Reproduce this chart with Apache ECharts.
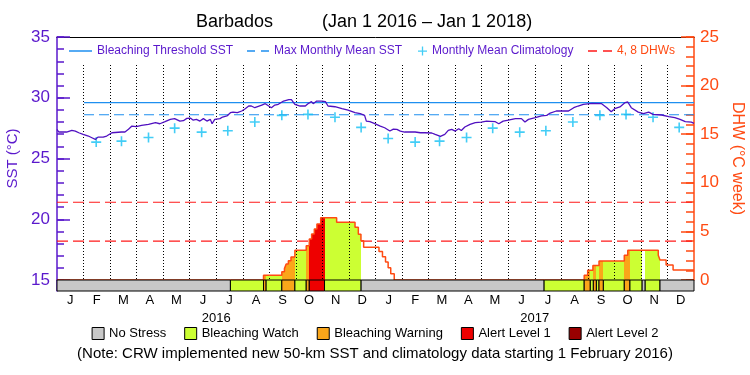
<!DOCTYPE html>
<html>
<head>
<meta charset="utf-8">
<script src="https://cdn.jsdelivr.net/npm/echarts@6/dist/echarts.min.js"></script>
<style>html,body{margin:0;padding:0;background:#fff}#chart{width:750px;height:375px}</style>
</head>
<body>
<div id="chart"></div>
<script>
// x values are days since 2016-01-01 (731 days up to 2018-01-01)
var monthLabels = ['J','F','M','A','M','J','J','A','S','O','N','D','J','F','M','A','M','J','J','A','S','O','N','D'];
var yearLabels = ['2016','2017'];

var sstDays = [0,2,11,13,17,21,25,30,36,40,44,47,49,53,57,63,74,78,82,86,91,97,105,113,118,124,130,135,141,145,149,153,156,160,164,168,172,176,178,181,183,187,190,195,199,202,207,212,216,220,223,227,231,235,239,243,246,250,254,260,266,269,273,279,285,288,292,294,298,304,308,311,319,327,334,342,348,353,355,359,364,365,371,376,382,386,390,394,399,411,417,422,430,434,440,445,449,453,457,461,464,468,474,480,487,493,497,499,503,507,512,518,526,533,537,541,549,556,562,566,573,587,593,598,604,614,625,631,636,640,646,652,655,659,667,673,679,684,694,702,709,715,721,728,731];
var sstValues = [27.4,27.18,27.18,27.26,27.31,27.26,27.12,26.98,26.85,26.71,26.57,26.76,26.85,26.76,26.85,27.12,27.18,27.18,27.4,27.67,27.62,27.73,27.81,27.95,27.86,28.03,28.22,28.28,28.08,28.11,28.3,28.33,28.16,28.22,28.08,28.28,28.08,28.22,27.86,28.22,28.36,28.28,28.41,28.5,28.77,28.82,28.77,28.91,29.1,29.32,29.32,29.18,29.29,29.4,29.51,29.32,29.18,29.4,29.46,29.73,29.84,29.84,29.46,29.32,29.32,29.51,29.68,29.51,29.73,29.73,29.68,29.32,29.26,29.1,28.99,28.77,28.69,28.55,28.08,28.03,27.89,27.73,27.67,27.53,27.26,27.42,27.4,27.26,27.18,27.18,27.12,27.12,27.1,26.98,26.82,26.98,27.31,27.4,27.26,27.45,27.31,27.59,27.81,27.95,28.0,28.08,28.06,27.95,28.03,27.86,28.08,28.16,28.28,28.28,28.0,28.22,28.36,28.5,28.55,28.74,28.91,28.91,29.18,29.32,29.46,29.54,29.51,29.18,28.85,29.1,29.24,29.6,29.65,29.18,28.82,28.69,28.82,28.63,28.58,28.44,28.36,28.22,28.03,28.0,27.89];

// monthly mean climatology, mid-month, Feb 2016 .. Dec 2017
var climDays = [45,74,105,135,166,196,227,258,288,319,349,380,411,439,470,500,531,561,592,623,653,684,714];
var climValues = [26.35,26.43,26.73,27.5,27.17,27.28,28.0,28.55,28.63,28.4,27.56,26.65,26.35,26.43,26.73,27.5,27.17,27.28,28.0,28.55,28.63,28.4,27.56];

var mmmSST = 28.6;
var thresholdSST = 29.6;
var thresholdStart = 31;   // new climatology from 1 Feb 2016
var dhwLevels = [4, 8];

// degree heating weeks (step values)
var dhwDays = [0,237,258,261,263,265.5,268.5,273,286,289.5,292.2,295.3,298.3,302.6,320.9,342,345.8,348.8,351.9,369.5,373.5,377,380,383,387,605,609,615,622,651,655,690,692,699,707,731];
var dhwValues = [0,0.48,0.86,1.17,1.64,1.99,2.37,3.05,3.53,4.22,4.73,5.25,5.76,6.41,5.93,5.42,4.7,4.05,3.36,2.92,2.4,1.85,1.25,0.65,0,0.5,1.0,1.5,1.95,2.55,3.05,2.55,2.05,1.55,1.03,1.03];

// [start day, end day, level] 0 no stress .. 4 alert level 2
var stressSegments = [[0,199,0],[199,237,1],[237,240,2],[240,258,1],[258,273,2],[273,286,1],[286,289.5,2],[289.5,307,3],[307,349,1],[349,559,0],[559,605,1],[605,612,2],[612,615.5,1],[615.5,619,2],[619,622,1],[622,627,2],[627,651,1],[651,657.5,2],[657.5,671.5,1],[671.5,675,0],[675,692,1],[692,731,0]];
var levelNames = ['No Stress','Bleaching Watch','Bleaching Warning','Alert Level 1','Alert Level 2'];
var levelColors = ['#c8c8c8','#ccff33','#faa61a','#ee0000','#990000'];

var purple = '#5a18cc';
var sstColor = '#5010c0';
var blue = '#1e8ff0';
var cyan = '#14c0f4';
var dhwColor = '#ff4a12';
var redDash = '#ff1a1a';
var font = 'Liberation Sans, Arial, sans-serif';
var plusPath = 'path://M0,4.2H10V5.8H0ZM4.2,0H5.8V10H4.2Z';

function pairs(xs, ys){
	var out = [];
	for (var i = 0; i < xs.length; i++) out.push([xs[i], ys[i]]);
	return out;
}

var pieces = [];
stressSegments.forEach(function(s){
	if (s[2] > 0) pieces.push({gte: s[0], lt: s[1], color: levelColors[s[2]]});
});

// an axis that only draws inside ticks (used for the small 1-unit ticks)
function tickAxis(min, max, pos, color, len){
	return {gridIndex: 0, type: 'value', min: min, max: max, interval: 1, position: pos,
		axisLine: {show: false, onZero: false}, axisLabel: {show: false}, splitLine: {show: false},
		axisTick: {show: true, inside: true, length: len, lineStyle: {color: color, width: 1.5}}};
}

var chart = echarts.init(document.getElementById('chart'));
var option = {
	animation: false,
	backgroundColor: '#fff',
	textStyle: {fontFamily: font},
	title: [
		{text: 'Barbados', left: 196, top: 13, padding: 0, textStyle: {fontSize: 18, fontWeight: 'normal', color: '#000', fontFamily: font}},
		{text: '(Jan 1 2016 \u2013 Jan 1 2018)', left: 322, top: 13, padding: 0, textStyle: {fontSize: 18, fontWeight: 'normal', color: '#000', fontFamily: font}},
		{text: '(Note: CRW implemented new 50-km SST and climatology data starting 1 February 2016)', left: 'center', top: 346, padding: 0, textStyle: {fontSize: 15, fontWeight: 'normal', color: '#000', fontFamily: font}}
	],
	legend: [
		{left: 69, top: 45, padding: 0, selectedMode: false, itemWidth: 23, itemHeight: 2, textStyle: {color: purple, fontSize: 12, fontFamily: font},
			data: [{name: 'Bleaching Threshold SST', icon: 'path://M0,0H23V1.5H0Z', itemStyle: {color: blue, borderWidth: 0}}]},
		{left: 247, top: 45, padding: 0, selectedMode: false, itemWidth: 22, itemHeight: 2, textStyle: {color: purple, fontSize: 12, fontFamily: font},
			data: [{name: 'Max Monthly Mean SST', icon: 'path://M0,0H8V1.5H0ZM14,0H22V1.5H14Z', itemStyle: {color: blue, borderWidth: 0}}]},
		{left: 418, top: 45, padding: 0, selectedMode: false, itemWidth: 9, itemHeight: 9, textStyle: {color: purple, fontSize: 12, fontFamily: font},
			data: [{name: 'Monthly Mean Climatology', icon: 'path://M0,4H9V5.3H0ZM3.85,0H5.15V9H3.85Z', itemStyle: {color: cyan, borderWidth: 0}}]},
		{left: 588, top: 45, padding: 0, selectedMode: false, itemWidth: 24, itemHeight: 2, textStyle: {color: dhwColor, fontSize: 12, fontFamily: font},
			data: [{name: '4, 8 DHWs', icon: 'path://M0,0H9V1.5H0ZM15,0H24V1.5H15Z', itemStyle: {color: redDash, borderWidth: 0}}]},
		{left: 'center', top: 327, padding: 0, selectedMode: false, itemWidth: 12, itemHeight: 12, itemGap: 18, icon: 'rect',
			itemStyle: {borderColor: '#000', borderWidth: 1},
			textStyle: {color: '#000', fontSize: 13, fontFamily: font}, data: levelNames}
	],
	grid: [
		{left: 57, right: 56, top: 37, height: 243, outerBoundsMode: 'none'},
		{left: 57, right: 56, top: 280, height: 11, outerBoundsMode: 'none'},
		{left: 57, right: 56, top: 65, height: 215, outerBoundsMode: 'none'}
	],
	xAxis: [
		{gridIndex: 0, type: 'value', min: 0, max: 731, show: false, axisLine: {onZero: false}},
		{gridIndex: 0, type: 'value', min: 0, max: 731, position: 'top', axisLine: {show: true, onZero: false, lineStyle: {color: '#000', width: 1}},
			axisTick: {show: false}, axisLabel: {show: false}, splitLine: {show: false}},
		{gridIndex: 1, type: 'value', min: 0, max: 731, show: false, axisLine: {onZero: false}},
		{gridIndex: 1, type: 'category', data: monthLabels, position: 'bottom', axisLine: {show: false, onZero: false}, axisTick: {show: false},
			axisLabel: {interval: 0, margin: 3, fontSize: 13, color: '#000', fontFamily: font}, splitLine: {show: false}},
		{gridIndex: 1, type: 'category', data: yearLabels, position: 'bottom', offset: 18, axisLine: {show: false, onZero: false}, axisTick: {show: false},
			axisLabel: {interval: 0, margin: 3, fontSize: 13, color: '#000', fontFamily: font}, splitLine: {show: false}},
		{gridIndex: 2, type: 'category', data: monthLabels, z: 3, axisLine: {show: false, onZero: false}, axisTick: {show: false},
			axisLabel: {show: false, interval: 0},
			splitLine: {show: true, interval: 0, showMinLine: false, showMaxLine: false, lineStyle: {color: '#000', width: 1, type: [1, 2]}}}
	],
	yAxis: [
		{gridIndex: 0, type: 'value', min: 15, max: 35, interval: 5, position: 'left',
			axisLine: {show: true, onZero: false, lineStyle: {color: purple, width: 1.5}},
			axisTick: {show: true, inside: true, length: 13, lineStyle: {color: purple, width: 1.5}},
			axisLabel: {color: purple, fontSize: 17, margin: 7, fontFamily: font},
			splitLine: {show: false},
			name: 'SST (\u00b0C)', nameLocation: 'middle', nameRotate: 90, nameGap: 28,
			nameTextStyle: {color: purple, fontSize: 15, fontFamily: font}},
		{gridIndex: 0, type: 'value', min: 0, max: 25, interval: 5, position: 'right',
			axisLine: {show: true, onZero: false, lineStyle: {color: dhwColor, width: 1.5}},
			axisTick: {show: true, inside: true, length: 13, lineStyle: {color: dhwColor, width: 1.5}},
			axisLabel: {color: dhwColor, fontSize: 17, margin: 6, fontFamily: font},
			splitLine: {show: false},
			name: 'DHW (\u00b0C week)', nameLocation: 'middle', nameRotate: -90, nameGap: 30,
			nameTextStyle: {color: dhwColor, fontSize: 16, fontFamily: font}},
		{gridIndex: 1, type: 'value', min: 0, max: 1, position: 'left', axisLine: {show: true, onZero: false, lineStyle: {color: purple, width: 1.5}},
			axisTick: {show: false}, axisLabel: {show: false}, splitLine: {show: false}},
		{gridIndex: 2, type: 'value', show: false, axisLine: {onZero: false}},
		tickAxis(15, 35, 'left', purple, 7),
		tickAxis(0, 25, 'right', dhwColor, 8)
	],
	visualMap: [{
		type: 'piecewise', show: false, seriesIndex: 6, dimension: 0,
		pieces: pieces, outOfRange: {color: 'rgba(255,255,255,0)'}
	}],
	series: [
		{name: 'Bleaching Threshold SST', type: 'line', xAxisIndex: 0, yAxisIndex: 0, z: 4, symbol: 'none', silent: true,
			data: [[thresholdStart, thresholdSST], [731, thresholdSST]], itemStyle: {color: blue}, lineStyle: {color: blue, width: 1.2}},
		{name: 'Max Monthly Mean SST', type: 'line', xAxisIndex: 0, yAxisIndex: 0, z: 4, symbol: 'none', silent: true,
			data: [[thresholdStart, mmmSST], [731, mmmSST]], itemStyle: {color: blue}, lineStyle: {color: blue, width: 1.2, type: [10, 5]}},
		{name: 'Monthly Mean Climatology', type: 'scatter', xAxisIndex: 0, yAxisIndex: 0, z: 5, symbol: plusPath, symbolSize: 10, silent: true,
			data: pairs(climDays, climValues), itemStyle: {color: cyan}},
		{name: 'SST', type: 'line', xAxisIndex: 0, yAxisIndex: 0, z: 6, symbol: 'none', silent: true,
			data: pairs(sstDays, sstValues), lineStyle: {color: sstColor, width: 1.3}},
		{name: '4, 8 DHWs', type: 'line', xAxisIndex: 0, yAxisIndex: 1, z: 1, symbol: 'none', silent: true,
			data: [[0, dhwLevels[0]], [731, dhwLevels[0]]], itemStyle: {color: redDash}, lineStyle: {color: redDash, width: 1.2, type: [11, 5]}},
		{name: '4, 8 DHWs', type: 'line', xAxisIndex: 0, yAxisIndex: 1, z: 1, symbol: 'none', silent: true,
			data: [[0, dhwLevels[1]], [731, dhwLevels[1]]], itemStyle: {color: redDash}, lineStyle: {color: redDash, width: 1.2, type: [11, 5]}},
		{name: 'DHW fill', type: 'line', xAxisIndex: 0, yAxisIndex: 1, z: 2, step: 'end', symbol: 'none', silent: true,
			data: pairs(dhwDays, dhwValues), lineStyle: {width: 0, opacity: 0}, areaStyle: {opacity: 1}},
		{name: 'DHW', type: 'line', xAxisIndex: 0, yAxisIndex: 1, z: 7, step: 'end', symbol: 'none', silent: true,
			data: pairs(dhwDays, dhwValues), itemStyle: {color: dhwColor}, lineStyle: {color: dhwColor, width: 1.5}},
		{name: 'Stress', type: 'custom', xAxisIndex: 2, yAxisIndex: 2, z: 8, silent: true,
			data: stressSegments,
			renderItem: function(params, api){
				var a = api.coord([api.value(0), 1]);
				var b = api.coord([api.value(1), 0]);
				return {type: 'rect', shape: {x: a[0], y: a[1], width: b[0] - a[0], height: b[1] - a[1]},
					style: {fill: levelColors[api.value(2)], stroke: '#000', lineWidth: 1}};
			}}
	]
};
levelNames.forEach(function(n, i){
	option.series.push({name: n, type: 'bar', xAxisIndex: 2, yAxisIndex: 2, data: [], itemStyle: {color: levelColors[i]}});
});
chart.setOption(option);
</script>
</body>
</html>
